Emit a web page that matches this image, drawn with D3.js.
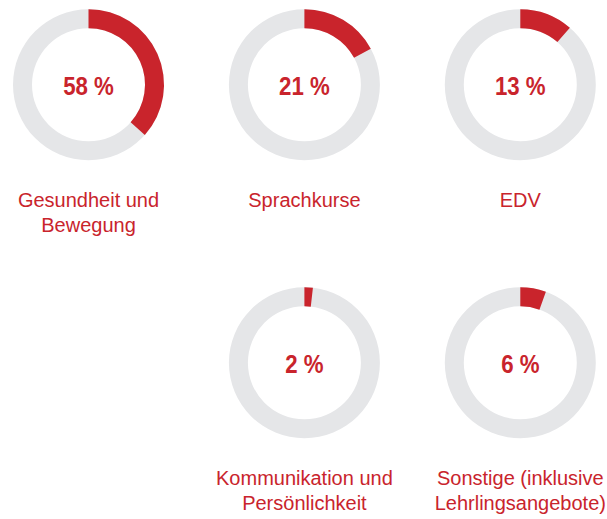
<!DOCTYPE html>
<html>
<head>
<meta charset="utf-8">
<script src="https://cdn.jsdelivr.net/npm/d3@7"></script>
<style>
  html, body { margin: 0; padding: 0; background: #ffffff; }
  svg { display: block; }
</style>
</head>
<body>
<svg id="chart" width="607" height="519"></svg>
<script>
// ---- data ----
const categories = [
  ["Gesundheit und", "Bewegung"],
  ["Sprachkurse"],
  ["EDV"],
  ["Kommunikation und", "Persönlichkeit"],
  ["Sonstige (inklusive", "Lehrlingsangebote)"]
];
const percentLabels = [58, 21, 13, 2, 6];
// filled share of each ring as drawn in the reference (fraction of full circle)
const arcShare = [0.366, 0.171, 0.114, 0.018, 0.055];
const gridCol = [0, 1, 2, 1, 2];
const gridRow = [0, 0, 0, 1, 1];

// ---- layout ----
const RED = "#c9242c", GREY = "#e5e6e8";
const rOuter = 75.5, rInner = 56.5;

const svg = d3.select("#chart");
const x = d3.scalePoint().domain([0, 1, 2]).range([88.5, 520.3]);
const y = d3.scalePoint().domain([0, 1]).range([84.7, 362.8]);

const angle = d3.scaleLinear().domain([0, 1]).range([0, 2 * Math.PI]);
const arc = d3.arc().innerRadius(rInner).outerRadius(rOuter);

const g = svg.selectAll("g.donut")
  .data(percentLabels.map((v, i) => ({ v, i })))
  .join("g")
  .attr("class", "donut")
  .attr("transform", d => `translate(${x(gridCol[d.i])},${y(gridRow[d.i])})`);

g.append("path")
  .attr("d", arc({ startAngle: 0, endAngle: 2 * Math.PI }))
  .attr("fill", GREY);

g.append("path")
  .attr("d", d => arc({ startAngle: 0, endAngle: angle(arcShare[d.i]) }))
  .attr("fill", RED);

g.append("text")
  .attr("text-anchor", "middle")
  .attr("transform", "translate(0,10) scale(0.84,1)")
  .attr("fill", RED)
  .style("font-family", "'Liberation Sans', Arial, sans-serif")
  .style("font-weight", "bold")
  .style("font-size", "26.5px")
  .text(d => `${d.v} %`);

g.each(function(d) {
  const t = d3.select(this).append("text")
    .attr("text-anchor", "middle")
    .attr("fill", RED)
    .style("font-family", "'Liberation Sans', Arial, sans-serif")
    .style("font-size", "20px");
  categories[d.i].forEach((line, k) => {
    t.append("tspan")
      .attr("x", 0)
      .attr("y", 122 + k * 25.6)
      .text(line);
  });
});
</script>
</body>
</html>
